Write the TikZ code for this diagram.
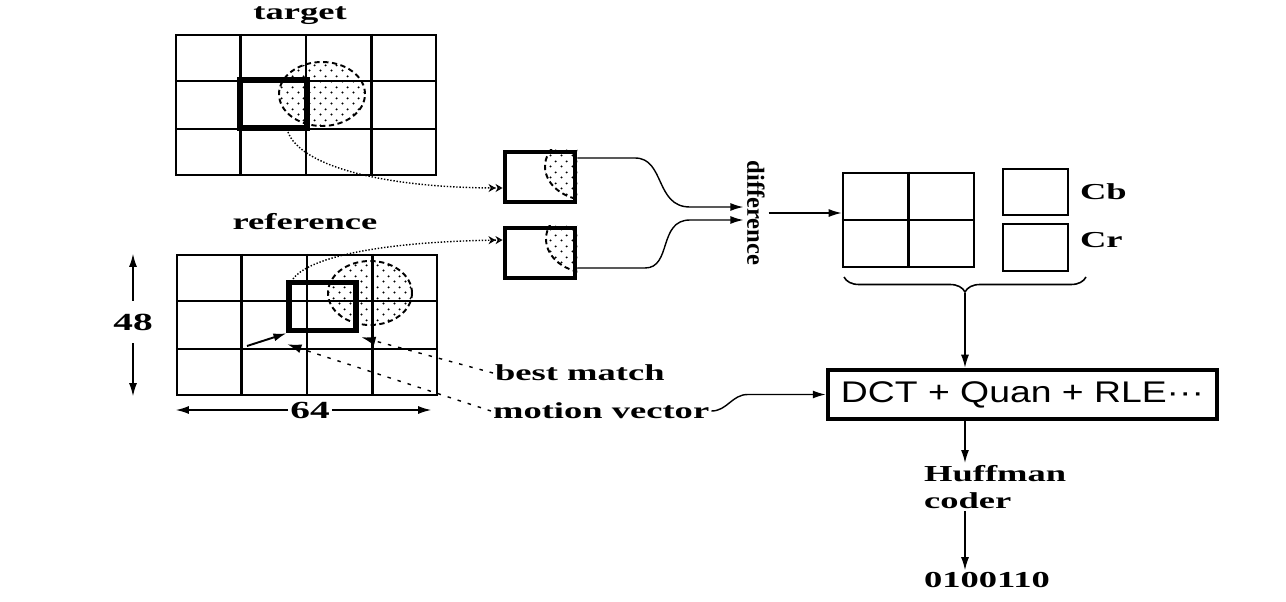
\documentclass[tikz,border=0pt]{standalone}
\usepackage{fontspec}
\setmainfont{Liberation Serif}
\newfontfamily\lblfont[FakeStretch=1.6]{Liberation Serif}
\newfontfamily\diffont{Liberation Serif}
\newfontfamily\boxfont[FakeStretch=1.25]{Liberation Sans}
\usetikzlibrary{arrows.meta,calc,patterns.meta,decorations.pathreplacing}
\tikzdeclarepattern{
  name=sparsedots,
  type=uncolored,
  bounding box={(0pt,0pt) and (6pt,6pt)},
  tile size={(6pt,6pt)},
  code={
    \pgfpathcircle{\pgfpoint{1.5pt}{1.5pt}}{0.65pt}
    \pgfpathcircle{\pgfpoint{4.5pt}{4.5pt}}{0.65pt}
    \pgfusepath{fill}
  }
}
\tikzset{
  gridframe/.style={draw, line width=1.3pt, minimum width=5.2cm,
    minimum height=2.8cm, inner sep=0pt},
  gridline/.style={line width=1.3pt},
  matchbox/.style={draw, line width=3.2pt, minimum width=1.33cm,
    minimum height=0.96cm, inner sep=0pt},
  blockbox/.style={draw, line width=2.8pt, minimum width=1.4cm,
    minimum height=1.0cm, inner sep=0pt},
  chromabox/.style={draw, line width=1.1pt, minimum width=1.3cm,
    minimum height=0.93cm, inner sep=0pt},
  blob/.style={pattern=sparsedots, draw, densely dashed,
    line width=1.1pt},
  lbl/.style={font=\lblfont\bfseries\fontsize{13}{15.5}\selectfont,
    inner sep=1pt},
  flow/.style={-{Latex[length=2.6mm,width=1.6mm]}, line width=0.8pt},
  copyflow/.style={densely dotted, line width=0.8pt,
    -{Stealth[open,length=1.4mm,width=1.6mm]Stealth[open,length=1.4mm,width=1.6mm]}},
  leader/.style={dash pattern=on 2pt off 4pt, line width=0.8pt,
    -{Latex[length=2.8mm,width=1.8mm]}}
}

\begin{document}
\begin{tikzpicture}[x=0.02cm, y=-0.02cm]
\useasboundingbox (0,0) rectangle (1286,602);

% ---- target frame ----
\node[lbl] (tgtlabel) at (300,16) {target};
\path[blob] (322,94) ellipse [x radius=0.86cm, y radius=0.64cm];
\node[gridframe] (tgt) at (306,105) {};
\foreach \i in {1,2,3}
  \draw[gridline] ($(tgt.north west)!\i/4!(tgt.north east)$) -- ($(tgt.south west)!\i/4!(tgt.south east)$);
\foreach \j in {1,2}
  \draw[gridline] ($(tgt.north west)!\j/3!(tgt.south west)$) -- ($(tgt.north east)!\j/3!(tgt.south east)$);
\node[matchbox] (tbox) at (273.5,104) {};

% ---- reference frame ----
\node[lbl] (reflabel) at (305,222) {reference};
\path[blob] (370,293) ellipse [x radius=0.84cm, y radius=0.64cm];
\node[gridframe] (ref) at (307,325) {};
\foreach \i in {1,2,3}
  \draw[gridline] ($(ref.north west)!\i/4!(ref.north east)$) -- ($(ref.south west)!\i/4!(ref.south east)$);
\foreach \j in {1,2}
  \draw[gridline] ($(ref.north west)!\j/3!(ref.south west)$) -- ($(ref.north east)!\j/3!(ref.south east)$);
\node[matchbox] (rbox) at (322.5,306.5) {};

% ---- frame size ----
\node[lbl, font=\lblfont\bfseries\fontsize{14}{16}\selectfont] (h48) at (133,322) {48};
\draw[flow] ([yshift=0.22cm]h48.north) -- (h48.north |- ref.north);
\draw[flow] ([yshift=-0.22cm]h48.south) -- (h48.south |- ref.south);
\node[lbl, font=\lblfont\bfseries\fontsize{14}{16}\selectfont] (w64) at (310,410) {64};
\draw[flow] (w64.west) -- (w64.west -| ref.west);
\draw[flow] (w64.east) -- ([xshift=-0.14cm]w64.east -| ref.east);

% ---- extracted blocks ----
\node[blockbox] (blk1) at (540,177) {};
\begin{scope}
  \clip (blk1.south west) rectangle (blk1.north east);
  \path[blob] (590,166.5) ellipse [x radius=0.9cm, y radius=0.68cm];
\end{scope}
\node[blockbox] (blk2) at (540,253) {};
\begin{scope}
  \clip (blk2.south west) rectangle (blk2.north east);
  \path[blob] (590,239) ellipse [x radius=0.88cm, y radius=0.68cm];
\end{scope}

\coordinate (tgtcut) at (288,132);
\coordinate (refcut) at (293,279);
\draw[copyflow] (tgtcut) .. controls (300,165) and (380,188) .. ([yshift=-0.22cm]blk1.west);
\draw[copyflow] (refcut) .. controls (305,262) and (360,242) .. ([yshift=0.26cm]blk2.west);

% ---- difference ----
\node[font=\diffont\bfseries\fontsize{14}{16}\selectfont, rotate=-90, inner sep=2pt] (diff) at (756,213) {difference};
\draw[flow] ([yshift=0.38cm]blk1.east) -- (635,158) .. controls (665,158) and (655,207) .. (690,207) -- ([yshift=0.12cm]diff.south);
\draw[flow] ([yshift=-0.3cm]blk2.east) -- (645,268) .. controls (672,268) and (658,220) .. (690,220) -- ([yshift=-0.14cm]diff.south);

% ---- Y, Cb, Cr blocks ----
\node[draw, line width=1.5pt, minimum width=2.62cm, minimum height=1.88cm, inner sep=0pt] (ygrid) at (908.5,220) {};
\draw[line width=1.5pt] (ygrid.north) -- (ygrid.south);
\draw[line width=1.5pt] (ygrid.west) -- (ygrid.east);
\draw[flow] (diff.north) -- (diff.north -| ygrid.west);
\node[chromabox] (cb) at (1035.5,192) {};
\node[chromabox] (cr) at (1035.5,247.5) {};
\node[lbl, anchor=west] (cblabel) at ([xshift=0.18cm]cb.east) {Cb};
\node[lbl, anchor=west] (crlabel) at ([xshift=0.18cm, yshift=0.14cm]cr.east) {Cr};

\coordinate (brl) at (844,277);
\coordinate (brr) at (1086,277);
\coordinate (brtip) at (965,293);
\draw[decorate, decoration={brace, mirror, amplitude=0.3cm}, line width=0.9pt] (brl) -- (brr);

% ---- coding chain ----
\node[draw, line width=2.6pt, minimum width=7.78cm, minimum height=0.98cm, inner sep=0pt,
  font=\boxfont\fontsize{17}{19}\selectfont] (dct) at (1022.5,394.5) {DCT + Quan + RLE···};
\draw[flow] (brtip) -- (brtip |- dct.north);
\node[lbl, align=left, anchor=north west] (huff) at (922,463) {Huffman\\coder};
\node[lbl, anchor=west] (bits) at (922,580) {0100110};
\draw[flow] (dct.south -| brtip) -- (huff.north -| brtip);
\draw[flow] (huff.south -| brtip) -- (bits.north -| brtip);

% ---- motion vector and best match ----
\coordinate (mvtail) at (247,346);
\draw[flow, line width=1.1pt] (mvtail) -- (rbox.south west);
\node[lbl, anchor=west] (bestm) at (493,373) {best match};
\node[lbl, anchor=west] (mvec) at (491,411) {motion vector};
\draw[leader] (bestm.west) -- ($(rbox.south east)+(3,4)$);
\draw[leader] (mvec.west) -- ($(rbox.south west)+(1,11)$);
\draw[flow] (mvec.east) .. controls +(16,0) and +(-16,0) .. ($(dct.west)+(-78,0)$) -- (dct.west);

\end{tikzpicture}
\end{document}
